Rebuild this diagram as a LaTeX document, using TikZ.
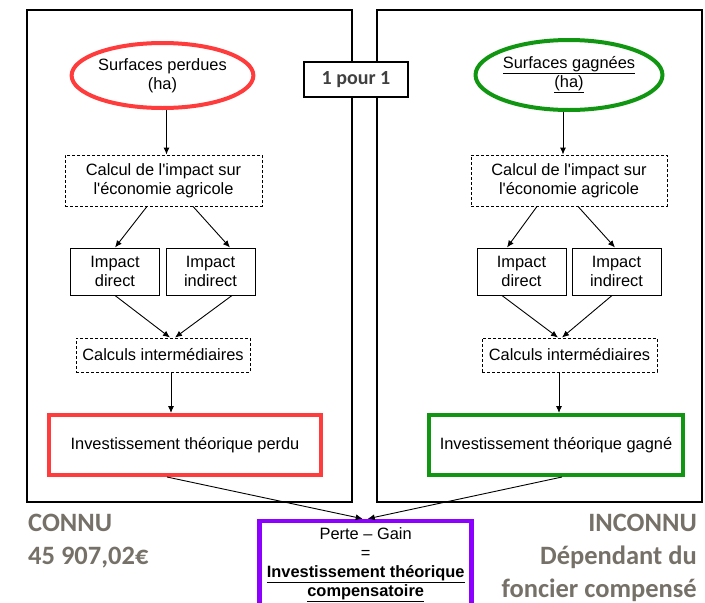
\documentclass[tikz,border=0pt]{standalone}
\usepackage{fontspec}
\setmainfont{Liberation Sans}[Ligatures=TeXOff]
\newfontfamily\calibri{Carlito}
\usetikzlibrary{shapes.geometric,arrows.meta}
\definecolor{perteRed}{RGB}{255,59,59}
\definecolor{gainGreen}{RGB}{16,150,16}
\definecolor{bilanPurple}{RGB}{140,0,255}
\definecolor{noteGray}{RGB}{118,113,104}
\newcommand{\souligne}[1]{\underline{#1}}

\begin{document}
\begin{tikzpicture}[x=1pt,y=-1pt,>={Latex[length=7pt,width=6pt]},
    every node/.style={font=\fontsize{16.4}{19}\selectfont,align=center,inner sep=0pt},
    surface/.style={ellipse,draw,line width=4pt,minimum width=181pt,minimum height=65pt},
    calcul/.style={draw,line width=0.9pt,dash pattern=on 3pt off 2pt},
    impact/.style={draw,line width=1pt,minimum width=89pt,minimum height=47pt},
    invest/.style={draw,line width=4pt,minimum height=60pt},
    note/.style={font=\calibri\bfseries\fontsize{26.5}{33}\selectfont,text=noteGray},
    fleche/.style={->,line width=0.9pt}]
      \clip (0,0) rectangle (705,603);
      \draw[line width=2.5pt] (27,10) rectangle (352,502);
      \draw[line width=2.5pt] (377,10) rectangle (702,502);
      \node[draw,fill=white,line width=2.5pt,minimum width=104pt,minimum height=35pt,
        font=\calibri\bfseries\fontsize{20}{24}\selectfont,text=black!75] (ratio) at (356,79.5) {1 pour 1};

      \node[surface,draw=perteRed] (surfP) at (162.5,75.5) {Surfaces perdues\\(ha)};
      \node[calcul,minimum width=197pt,minimum height=51pt] (calcP) at (163.5,180.5)
        {Calcul de l'impact sur\\l'économie agricole};
      \node[impact] (dirP) at (115,271.5) {Impact\\direct};
      \node[impact] (indP) at (210.5,271.5) {Impact\\indirect};
      \node[calcul,minimum width=174pt,minimum height=34pt] (calcsP) at (163,355) {Calculs intermédiaires};
      \node[invest,draw=perteRed,minimum width=272pt] (invP) at (185,445) {Investissement théorique perdu};

      \node[surface,draw=gainGreen,minimum width=182pt,minimum height=70pt] (surfG) at (569,75)
        {\souligne{Surfaces gagnées}\\\souligne{(ha)}};
      \node[calcul,minimum width=196pt,minimum height=51pt] (calcG) at (569,180.5)
        {Calcul de l'impact sur\\l'économie agricole};
      \node[impact] (dirG) at (521.5,271.5) {Impact\\direct};
      \node[impact] (indG) at (616.5,271.5) {Impact\\indirect};
      \node[calcul,minimum width=175pt,minimum height=34pt] (calcsG) at (569.5,355) {Calculs intermédiaires};
      \node[invest,draw=gainGreen,minimum width=254pt] (invG) at (556,445) {Investissement théorique gagné};

      \node[draw=bilanPurple,line width=4.5pt,minimum width=212pt,minimum height=88pt] (bilan) at (365.7,565)
        {Perte – Gain\\=\\\textbf{\souligne{Investissement théorique}}\\\textbf{\souligne{compensatoire}}};

      \node[note,align=left,anchor=north west] (connu) at (28,514) {CONNU\\45 907,02€};
      \node[note,align=right,anchor=north east] (inconnu) at (697,514)
        {INCONNU\\Dépendant du\\foncier compensé};

      \draw[fleche] ([xshift=4pt]surfP.south) -- ([xshift=4pt]surfP.south |- calcP.north);
      \draw[fleche] ([xshift=-16.5pt]calcP.south) -- (dirP.north);
      \draw[fleche] ([xshift=29.5pt]calcP.south) -- ([xshift=19.5pt]indP.north);
      \draw[fleche] (dirP.south) -- ([xshift=7pt]calcsP.north);
      \draw[fleche] ([xshift=21.5pt]indP.south) -- ([xshift=12pt]calcsP.north);
      \draw[fleche] ([xshift=8pt]calcsP.south) -- ([xshift=8pt]calcsP.south |- invP.north);
      \draw[fleche] ([xshift=-18pt]invP.south) -- ([xshift=-3pt]bilan.north);

      \draw[fleche] ([xshift=-6pt]surfG.south) -- ([xshift=-6pt]surfG.south |- calcG.north);
      \draw[fleche] ([xshift=-32pt]calcG.south) -- ([xshift=-14.5pt]dirG.north);
      \draw[fleche] ([xshift=9pt]calcG.south) -- ([xshift=-1.5pt]indG.north);
      \draw[fleche] ([xshift=-19.5pt]dirG.south) -- ([xshift=-11.5pt]calcsG.north);
      \draw[fleche] ([xshift=-4.5pt]indG.south) -- ([xshift=-7.5pt]calcsG.north);
      \draw[fleche] ([xshift=-10.5pt]calcsG.south) -- ([xshift=-10.5pt]calcsG.south |- invG.north);
      \draw[fleche] ([xshift=6pt]invG.south) -- ([xshift=2pt]bilan.north);
    \end{tikzpicture}
\end{document}
